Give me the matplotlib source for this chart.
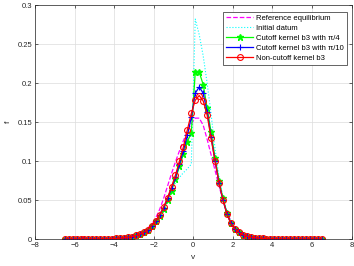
"""Recreate the kernel comparison plot (f versus v)."""

import matplotlib.pyplot as plt
import numpy as np

plt.rcParams["font.family"] = ["Liberation Sans", "DejaVu Sans"]

# velocity grid (66 cells, centres at odd multiples of 0.1)
v = np.linspace(-6.5, 6.5, 66)

# tails shared by all curves, read as ~0
left_tail = [0, 0, 0, 0, 0, 0, 0.0001, 0.0001, 0.0001, 0.0002, 0.0002, 0.0003, 0.0005, 0.0008]
right_tail = [0.0001, 0.0001, 0.0001, 0, 0, 0, 0, 0, 0, 0, 0, 0]

# values for v = -3.7 ... -0.1 and v = 0.1 ... 4.1
ref_left = [0.0012, 0.0018, 0.0026, 0.0037, 0.0052, 0.0072, 0.010, 0.014, 0.019, 0.027,
            0.038, 0.052, 0.068, 0.084, 0.099, 0.113, 0.126, 0.138, 0.148]
ref_right = [0.155, 0.155, 0.146, 0.128, 0.108, 0.088, 0.068, 0.050, 0.035, 0.023, 0.015,
             0.0095, 0.0060, 0.0038, 0.0024, 0.0015, 0.0009, 0.0006, 0.0004, 0.0002, 0.0001]

init_left = [0.0011, 0.0016, 0.0023, 0.0032, 0.0045, 0.0062, 0.0088, 0.012, 0.017, 0.023,
             0.031, 0.041, 0.052, 0.063, 0.072, 0.079, 0.085, 0.090, 0.096]
init_right = [0.282, 0.262, 0.235, 0.200, 0.160, 0.116, 0.080, 0.054, 0.035, 0.022, 0.014,
              0.009, 0.0055, 0.0038, 0.0026, 0.0018, 0.0012, 0.0008, 0.0005, 0.0003, 0.0002]

cut4_left = [0.0011, 0.0016, 0.0023, 0.0032, 0.0045, 0.0062, 0.0088, 0.012, 0.017, 0.023,
             0.030, 0.039, 0.050, 0.062, 0.077, 0.093, 0.109, 0.125, 0.136]
cut4_right = [0.214, 0.214, 0.198, 0.168, 0.137, 0.104, 0.075, 0.052, 0.033, 0.021, 0.013,
              0.0086, 0.0055, 0.0038, 0.0026, 0.0018, 0.0012, 0.0008, 0.0005, 0.0003, 0.0002]

cut10_left = [0.0011, 0.0016, 0.0023, 0.0032, 0.0045, 0.0062, 0.0088, 0.012, 0.017, 0.023,
              0.031, 0.040, 0.052, 0.065, 0.079, 0.096, 0.113, 0.133, 0.156]
cut10_right = [0.187, 0.195, 0.187, 0.163, 0.131, 0.100, 0.072, 0.050, 0.032, 0.020, 0.013,
               0.0086, 0.0055, 0.0038, 0.0026, 0.0018, 0.0012, 0.0008, 0.0005, 0.0003, 0.0002]

noncut_left = [0.0011, 0.0016, 0.0023, 0.0032, 0.0045, 0.0062, 0.0088, 0.012, 0.017, 0.023,
               0.031, 0.041, 0.053, 0.067, 0.082, 0.100, 0.118, 0.140, 0.161]
noncut_right = [0.178, 0.184, 0.177, 0.159, 0.129, 0.100, 0.072, 0.050, 0.032, 0.020, 0.013,
                0.0086, 0.0055, 0.0038, 0.0026, 0.0018, 0.0012, 0.0008, 0.0005, 0.0003, 0.0002]

f_ref = np.array(left_tail + ref_left + ref_right + right_tail)
f_init = np.array(left_tail + init_left + init_right + right_tail)
f_cut4 = np.array(left_tail + cut4_left + cut4_right + right_tail)
f_cut10 = np.array(left_tail + cut10_left + cut10_right + right_tail)
f_noncut = np.array(left_tail + noncut_left + noncut_right + right_tail)

labels = ["Reference equilibrium", "Initial datum", "Cutoff kernel b3 with \u03c0/4",
          "Cutoff kernel b3 with \u03c0/10", "Non-cutoff kernel b3"]

fig = plt.figure(figsize=(3.54, 2.66), dpi=100)
ax = fig.add_axes([0.099, 0.1015, 0.894, 0.8795])

ax.plot(v, f_ref, "--", color="#FF00FF", linewidth=0.9, label=labels[0])
ax.plot(v, f_init, ":", color="#00FFFF", linewidth=0.8, label=labels[1])
ax.plot(v, f_cut4, "-*", color="#00FF00", linewidth=0.9, markersize=4.5, label=labels[2])
ax.plot(v, f_cut10, "-+", color="#0000FF", linewidth=0.9, markersize=4.5, markeredgewidth=0.8, label=labels[3])
ax.plot(v, f_noncut, "-o", color="#FF0000", linewidth=0.9, markersize=4.2, markerfacecolor="none",
        markeredgewidth=0.8, label=labels[4])

ax.set_xlim(-8, 8)
ax.set_ylim(0, 0.3)
ax.set_xticks(np.arange(-8, 9, 2))
ax.set_yticks([0, 0.05, 0.1, 0.15, 0.2, 0.25, 0.3])
ax.set_yticklabels(["0", "0.05", "0.1", "0.15", "0.2", "0.25", "0.3"])
ax.tick_params(direction="in", length=2.5, width=0.5, labelsize=5.5, colors="#262626",
               top=True, right=True, pad=2)
ax.grid(True, color="#dcdcdc", linewidth=0.5)
ax.set_axisbelow(True)
for s in ax.spines.values():
    s.set_color("#262626")
    s.set_linewidth(0.5)

ax.set_xlabel("v", fontsize=6, color="#262626", labelpad=4)
ax.set_ylabel("f", fontsize=6, color="#262626", labelpad=4)

leg = ax.legend(loc="upper right", bbox_to_anchor=(0.985, 0.971), fontsize=5.5, frameon=True,
                fancybox=False, framealpha=1, edgecolor="#262626", borderaxespad=0,
                handlelength=3.6, handletextpad=0.4, labelspacing=0.35, borderpad=0.35)
leg.get_frame().set_linewidth(0.5)

plt.savefig("out.png", dpi=100)
